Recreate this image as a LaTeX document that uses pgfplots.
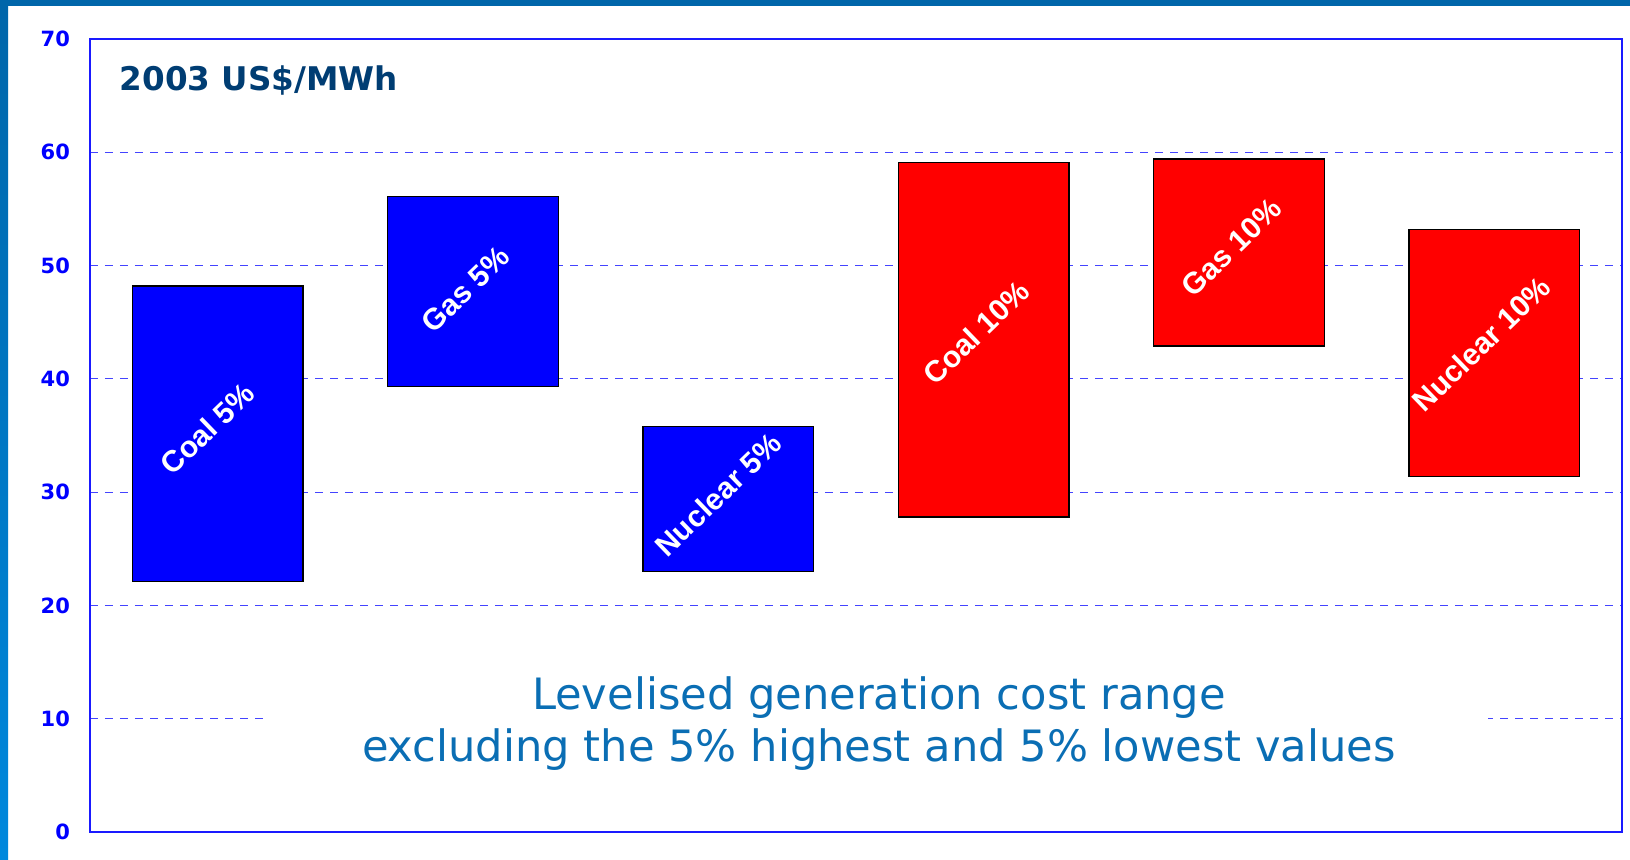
\documentclass[border=0pt]{standalone}
\usepackage{pgfplots}
\pgfplotsset{compat=1.18}
\usepackage{fontspec}
\setmainfont{Liberation Sans}
\newfontfamily\verdana{DejaVu Sans}
\definecolor{framebar}{HTML}{0066AA}
\definecolor{framebar2}{HTML}{0088DD}
\definecolor{titlec}{HTML}{003D73}
\definecolor{notec}{HTML}{0A6EB4}
\definecolor{gridc}{HTML}{4444FF}
\definecolor{axc}{HTML}{1A1AFF}
\begin{document}
\begin{tikzpicture}
\fill[white] (0,0) rectangle (815pt,430pt);
\fill[framebar] (0,427pt) rectangle (815pt,430pt);
\shade[top color=framebar, bottom color=framebar2] (0,0) rectangle (4pt,427pt);
\begin{axis}[
  at={(45pt,14pt)}, anchor=south west,
  scale only axis, width=766pt, height=396.5pt,
  xmin=-0.5, xmax=5.5, ymin=0, ymax=70,
  xtick=\empty, ytick={0,10,...,70},
  ymajorgrids, grid style={gridc, line width=0.6pt, dash pattern=on 4pt off 3.5pt},
  axis line style={axc, line width=1pt},
  major tick length=0pt,
  yticklabel style={font=\verdana\bfseries\fontsize{10.5}{12}\selectfont, text=blue, xshift=-6.5pt},
  /pgf/number format/assume math mode=true,
  clip=false,
]
\addplot[fill=blue, draw=black, line width=0.7pt] coordinates {(-0.334,22.1) (0.334,22.1) (0.334,48.2) (-0.334,48.2)} -- cycle;
\addplot[fill=blue, draw=black, line width=0.7pt] coordinates {(0.666,39.3) (1.334,39.3) (1.334,56.1) (0.666,56.1)} -- cycle;
\addplot[fill=blue, draw=black, line width=0.7pt] coordinates {(1.666,23.0) (2.334,23.0) (2.334,35.8) (1.666,35.8)} -- cycle;
\addplot[fill=red, draw=black, line width=0.7pt] coordinates {(2.666,27.8) (3.334,27.8) (3.334,59.1) (2.666,59.1)} -- cycle;
\addplot[fill=red, draw=black, line width=0.7pt] coordinates {(3.666,42.9) (4.334,42.9) (4.334,59.4) (3.666,59.4)} -- cycle;
\addplot[fill=red, draw=black, line width=0.7pt] coordinates {(4.666,31.4) (5.334,31.4) (5.334,53.2) (4.666,53.2)} -- cycle;
\node[rotate=44, text=white, font=\bfseries\fontsize{15}{18}\selectfont] at (axis cs:-0.04,35.6) {Coal 5\%};
\node[rotate=44, text=white, font=\bfseries\fontsize{15}{18}\selectfont] at (axis cs:0.97,47.9) {Gas 5\%};
\node[rotate=44, text=white, font=\bfseries\fontsize{15}{18}\selectfont] at (axis cs:1.96,29.8) {Nuclear 5\%};
\node[rotate=44, text=white, font=\bfseries\fontsize{15}{18}\selectfont] at (axis cs:2.97,44.1) {Coal 10\%};
\node[rotate=44, text=white, font=\bfseries\fontsize{15}{18}\selectfont] at (axis cs:3.97,51.6) {Gas 10\%};
\node[rotate=44, text=white, font=\bfseries\fontsize{15}{18}\selectfont] at (axis cs:4.95,43.1) {Nuclear 10\%};
\node[anchor=west, inner sep=0pt, text=titlec, font=\verdana\bfseries\fontsize{16.3}{19}\selectfont] at (axis cs:-0.385,66.3) {2003 US\$/MWh};
\node[fill=white, inner xsep=46pt, inner ysep=2pt, align=center, text=notec, font=\verdana\fontsize{21.6}{26}\selectfont] at (axis cs:2.59,9.6) {Levelised generation cost range\\excluding the 5\% highest and 5\% lowest values};
\end{axis}
\end{tikzpicture}
\end{document}
